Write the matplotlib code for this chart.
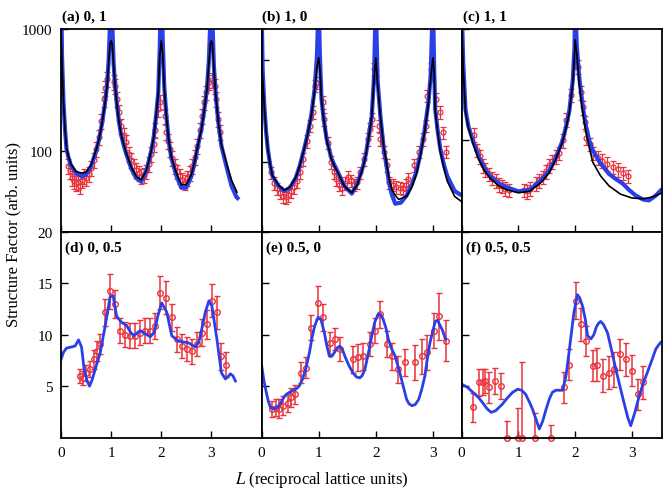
import numpy as np
import matplotlib
matplotlib.use("Agg")
import matplotlib.pyplot as plt
from matplotlib.ticker import NullLocator

plt.rcParams['font.family'] = ['Liberation Serif', 'DejaVu Serif']
plt.rcParams['mathtext.fontset'] = 'stix'

# ---- panel (a) 0, 1  (log scale)
L_blue_a = [0.0, 0.02, 0.05, 0.08, 0.11, 0.15, 0.2, 0.3, 0.41, 0.5, 0.6, 0.7, 0.76, 0.82, 0.88, 0.92,
            0.95, 0.98, 1.0, 1.02, 1.05, 1.08, 1.12, 1.16, 1.2, 1.25, 1.3, 1.4, 1.5, 1.6, 1.7,
            1.76, 1.8, 1.85, 1.9, 1.94, 1.97, 2.0, 2.03, 2.06, 2.1, 2.15, 2.2, 2.3, 2.4, 2.5,
            2.6, 2.66, 2.72, 2.8, 2.86, 2.91, 2.95, 2.98, 3.0, 3.02, 3.05, 3.09, 3.14, 3.2,
            3.3, 3.4, 3.5, 3.55]
S_blue_a = [3000, 600, 250, 150, 104, 88, 76, 66, 62, 64, 75, 100, 125, 170, 250, 350,
            550, 1200, 3000, 1200, 520, 340, 230, 170, 135, 112, 95, 72, 60, 56, 68,
            85, 100, 130, 200, 300, 700, 3000, 800, 340, 200, 120, 88, 63, 50, 50,
            62, 78, 105, 150, 220, 320, 550, 1200, 3000, 1200, 500, 280, 170, 110,
            75, 52, 42, 40]
L_black_a = [0.0, 0.02, 0.05, 0.08, 0.11, 0.15, 0.2, 0.3, 0.41, 0.5, 0.6, 0.7, 0.76, 0.82, 0.88, 0.92,
             0.95, 0.98, 1.0, 1.02, 1.05, 1.08, 1.12, 1.16, 1.2, 1.25, 1.3, 1.4, 1.5, 1.6, 1.7,
             1.76, 1.8, 1.85, 1.9, 1.94, 1.97, 2.0, 2.03, 2.06, 2.1, 2.15, 2.2, 2.3, 2.4, 2.5,
             2.6, 2.66, 2.72, 2.8, 2.86, 2.91, 2.95, 2.98, 3.0, 3.02, 3.05, 3.09, 3.14, 3.2,
             3.3, 3.4, 3.51]
S_black_a = [1000, 550, 250, 150, 106, 90, 78, 68, 66, 67, 77, 102, 126, 170, 248, 345,
             520, 760, 800, 760, 500, 335, 228, 170, 136, 114, 97, 74, 62, 58, 69,
             86, 101, 130, 198, 295, 600, 800, 620, 330, 198, 122, 90, 66, 53, 53,
             64, 80, 106, 150, 218, 315, 520, 760, 800, 760, 480, 275, 170, 113,
             80, 58, 46]
L_data_a = [0.14, 0.18, 0.22, 0.26, 0.3, 0.34, 0.38, 0.42, 0.46, 0.5, 0.55, 0.6, 0.65, 0.7, 0.75,
            0.8, 0.85, 0.88, 0.91, 1.05, 1.08, 1.12, 1.16, 1.2, 1.25, 1.3, 1.35, 1.4, 1.45, 1.5,
            1.55, 1.6, 1.65, 1.7, 1.75, 1.8, 1.85, 1.88, 1.93, 1.97, 2.07, 2.1, 2.14, 2.17, 2.22,
            2.27, 2.32, 2.37, 2.42, 2.47, 2.52, 2.57, 2.62, 2.67, 2.72, 2.77, 2.82, 2.86, 2.9,
            2.95, 3.02, 3.07, 3.1, 3.13, 3.17]
S_data_a = [75, 68, 60, 57, 55, 56, 52, 58, 62, 60, 65, 72, 85, 104, 130,
            175, 268, 330, 390, 370, 343, 268, 210, 161, 135, 118, 95, 85, 75, 70,
            66, 62, 64, 68, 78, 95, 115, 150, 221, 252, 195, 143, 120, 104, 88,
            75, 68, 62, 58, 56, 60, 66, 76, 90, 110, 150, 195, 250, 302,
            366, 380, 343, 268, 183, 143]

# ---- panel (b) 1, 0
L_blue_b = [0.0, 0.02, 0.05, 0.08, 0.11, 0.15, 0.19, 0.3, 0.4, 0.5, 0.6, 0.67, 0.74, 0.8, 0.87, 0.93,
            0.97, 1.0, 1.02, 1.05, 1.09, 1.14, 1.22, 1.28, 1.34, 1.45, 1.58, 1.68, 1.78, 1.83,
            1.87, 1.93, 1.97, 2.0, 2.03, 2.08, 2.14, 2.19, 2.23, 2.28, 2.34, 2.44, 2.54, 2.63,
            2.71, 2.78, 2.85, 2.92, 2.96, 3.0, 3.02, 3.04, 3.08, 3.13, 3.19, 3.25, 3.38, 3.5]
S_blue_b = [4000, 800, 350, 200, 134, 95, 73, 58, 52, 56, 70, 92, 130, 180, 285, 520,
            1100, 4000, 1200, 413, 260, 168, 110, 92, 79, 58, 49, 62, 92, 122,
            170, 285, 700, 4000, 650, 285, 134, 90, 63, 48, 39, 40, 47, 60,
            80, 120, 197, 380, 700, 4000, 900, 330, 210, 134, 95, 73, 52, 47]
L_black_b = [0.0, 0.02, 0.05, 0.08, 0.11, 0.15, 0.19, 0.3, 0.4, 0.5, 0.6, 0.67, 0.74, 0.8, 0.87, 0.93,
             0.97, 1.0, 1.02, 1.05, 1.09, 1.14, 1.22, 1.28, 1.34, 1.45, 1.58, 1.68, 1.78, 1.83,
             1.87, 1.93, 1.97, 2.0, 2.03, 2.08, 2.14, 2.19, 2.23, 2.28, 2.34, 2.4, 2.54, 2.63,
             2.71, 2.78, 2.85, 2.92, 2.96, 3.0, 3.02, 3.04, 3.08, 3.13, 3.19, 3.25, 3.38, 3.5]
S_black_b = [1050, 700, 340, 200, 134, 96, 74, 59, 53, 57, 71, 92, 130, 178, 280, 500,
             850, 1050, 850, 400, 255, 165, 108, 90, 78, 58, 50, 60, 90, 120,
             165, 280, 650, 1050, 600, 280, 140, 96, 70, 54, 47, 43, 46, 57,
             76, 115, 190, 370, 650, 1050, 800, 320, 200, 125, 88, 65, 46, 41]
L_data_b = [0.17, 0.22, 0.27, 0.32, 0.37, 0.42, 0.47, 0.52, 0.57, 0.62, 0.67, 0.73, 0.79, 0.84,
            0.9, 0.93, 0.95, 1.07, 1.1, 1.16, 1.22, 1.27, 1.31, 1.36, 1.41, 1.46, 1.52, 1.57,
            1.62, 1.67, 1.72, 1.8, 1.87, 1.9, 1.93, 1.97, 2.0, 2.05, 2.08, 2.14, 2.2, 2.23,
            2.3, 2.36, 2.42, 2.48, 2.52, 2.57, 2.66, 2.75, 2.82, 2.88, 2.9, 2.97, 3.05, 3.12,
            3.17, 3.23]
S_data_b = [79, 62, 55, 50, 46, 45, 47, 52, 57, 65, 79, 107, 160, 227,
            309, 560, 600, 386, 263, 155, 100, 80, 68, 60, 55, 62, 72, 66,
            60, 63, 79, 107, 168, 210, 263, 815, 700, 227, 168, 126, 93, 63,
            60, 57, 56, 55, 60, 68, 93, 126, 168, 227, 447, 815, 414, 309,
            195, 126]

# ---- panel (c) 1, 1
L_blue_c = [0.0, 0.03, 0.07, 0.12, 0.2, 0.3, 0.4, 0.5, 0.66, 0.8, 1.0, 1.2, 1.4, 1.54, 1.65,
            1.78, 1.85, 1.9, 1.96, 1.99, 2.0, 2.03, 2.07, 2.11, 2.15, 2.19, 2.25, 2.31, 2.45,
            2.6, 2.72, 2.84, 2.95, 3.07, 3.2, 3.3, 3.42, 3.54]
S_blue_c = [2000, 500, 190, 135, 100, 72, 57, 48, 41, 38, 35, 36, 44, 53, 68,
            100, 140, 187, 350, 700, 2000, 700, 380, 256, 180, 136, 100, 82, 62,
            50, 45, 41, 36, 32, 29.5, 29, 32, 37]
L_black_c = [0.0, 0.03, 0.07, 0.12, 0.2, 0.3, 0.4, 0.5, 0.66, 0.8, 1.0, 1.2, 1.4, 1.54, 1.65,
             1.78, 1.85, 1.9, 1.96, 1.99, 2.0, 2.03, 2.07, 2.11, 2.15, 2.19, 2.25, 2.31, 2.45,
             2.6, 2.8, 3.0, 3.2, 3.35, 3.54]
S_black_c = [1500, 450, 180, 130, 95, 68, 54, 46, 39, 36, 34, 35, 42, 51, 66,
             98, 135, 180, 330, 600, 800, 600, 330, 220, 160, 120, 86, 64, 48,
             39, 33, 30.5, 30, 31, 34]
L_data_c = [0.22, 0.28, 0.33, 0.37, 0.42, 0.48, 0.54, 0.6, 0.66, 0.71, 0.77, 0.83, 1.1, 1.15,
            1.2, 1.31, 1.37, 1.43, 1.49, 1.54, 1.6, 1.66, 1.72, 1.78, 1.84, 1.93, 1.99, 2.05,
            2.11, 2.14, 2.17, 2.2, 2.26, 2.31, 2.4, 2.48, 2.57, 2.66, 2.75, 2.84, 2.93]
S_data_c = [113, 82, 72, 60, 55, 50, 46, 44, 40, 39, 37, 36, 36, 35,
            37, 41, 44, 47, 53, 60, 65, 72, 77, 100, 154, 256, 510, 460,
            270, 198, 146, 106, 93, 77, 70, 66, 62, 58, 55, 51, 48]

# ---- panel (d) 0, 0.5  (linear)
L_blue_d = [0, 0.05, 0.11, 0.2, 0.28, 0.35, 0.41, 0.46, 0.52, 0.57, 0.62, 0.68, 0.78, 0.88, 0.98,
            1.04, 1.11, 1.21, 1.31, 1.38, 1.45, 1.58, 1.68, 1.78, 1.86, 1.93, 2.01, 2.11, 2.21,
            2.34, 2.45, 2.55, 2.68, 2.75, 2.81, 2.88, 2.95, 3.01, 3.11, 3.2, 3.28, 3.33, 3.38,
            3.43, 3.48]
S_blue_d = [7.6, 8.3, 8.7, 8.8, 8.9, 9.5, 8.8, 6.7, 5.5, 5.0, 5.6, 6.6, 8.2, 10.8, 13.7,
            13.8, 11.8, 11.2, 10.9, 10.3, 9.9, 10.4, 10.1, 9.8, 10.2, 11.8, 13.1, 12.2, 9.9,
            9.4, 9.3, 9.2, 8.8, 9.3, 10.6, 12.2, 13.3, 12.8, 9.6, 6.3, 5.7, 5.9, 6.2,
            6.0, 5.5]
L_data_d = [0.37, 0.43, 0.5, 0.58, 0.65, 0.71, 0.78, 0.88, 0.98, 1.08, 1.18, 1.28, 1.38, 1.48,
            1.58, 1.68, 1.78, 1.88, 1.98, 2.09, 2.21, 2.31, 2.41, 2.51, 2.61, 2.71, 2.81, 2.91,
            3.01, 3.11, 3.2, 3.3]
S_data_d = [6.0, 5.8, 6.3, 6.65, 7.6, 8.4, 9.1, 12.2, 14.25, 13.0, 10.4, 10.0, 9.9, 9.9,
            10.2, 10.4, 10.4, 10.85, 14.1, 13.6, 11.7, 9.56, 8.9, 8.6, 8.4, 9.1, 10.2, 11.0,
            13.3, 12.2, 7.9, 7.1]
E_data_d = [0.7, 0.7, 0.8, 0.8, 0.9, 1.0, 1.0, 1.3, 1.7, 1.4, 1.2, 1.2, 1.2, 1.2,
            1.2, 1.2, 1.2, 1.3, 1.6, 1.6, 1.3, 1.2, 1.2, 1.2, 1.2, 1.2, 1.3, 1.4,
            1.6, 1.6, 1.3, 1.2]

# ---- panel (e) 0.5, 0
L_blue_e = [0, 0.04, 0.08, 0.12, 0.16, 0.22, 0.28, 0.34, 0.4, 0.46, 0.52, 0.6, 0.66, 0.72, 0.78,
            0.84, 0.88, 0.93, 0.99, 1.04, 1.1, 1.14, 1.19, 1.23, 1.28, 1.32, 1.37, 1.42, 1.46,
            1.53, 1.6, 1.66, 1.72, 1.76, 1.81, 1.87, 1.93, 1.98, 2.04, 2.08, 2.13, 2.18, 2.22,
            2.28, 2.34, 2.38, 2.42, 2.48, 2.54, 2.58, 2.63, 2.69, 2.75, 2.8, 2.86, 2.9, 2.95,
            3.0, 3.04, 3.08, 3.13, 3.17, 3.22]
S_blue_e = [7.1, 5.6, 4.5, 3.5, 2.9, 2.8, 2.9, 3.4, 4.0, 4.3, 4.5, 4.7, 5.0, 5.7, 6.8,
            8.3, 9.6, 10.85, 11.7, 11.5, 10.2, 9.0, 7.9, 7.9, 8.3, 8.7, 8.9, 8.5, 7.9,
            7.0, 6.3, 5.9, 5.8, 6.0, 6.65, 8.2, 9.9, 11.2, 12.0, 12.0, 11.5, 10.6, 9.56,
            8.6, 7.9, 7.1, 6.3, 5.0, 3.7, 3.3, 3.1, 3.2, 3.7, 4.6, 6.0, 7.6, 9.27,
            10.4, 11.3, 11.4, 10.85, 10.4, 9.56]
L_data_e = [0.18, 0.25, 0.31, 0.37, 0.46, 0.52, 0.58, 0.69, 0.78, 0.87, 0.99, 1.07, 1.19, 1.28,
            1.37, 1.6, 1.69, 1.78, 1.9, 1.98, 2.07, 2.19, 2.28, 2.39, 2.51, 2.69, 2.81, 2.89,
            3.01, 3.1, 3.22]
S_data_e = [2.8, 2.9, 2.8, 3.1, 3.4, 3.9, 4.2, 6.3, 6.8, 10.7, 13.1, 11.7, 9.2, 9.6,
            8.6, 7.6, 7.8, 7.9, 9.1, 10.4, 12.0, 9.1, 7.9, 6.65, 7.3, 7.3, 7.9, 8.3,
            10.4, 11.8, 9.4]
E_data_e = [0.8, 0.8, 0.9, 0.9, 0.9, 0.9, 0.9, 1.0, 1.0, 1.2, 1.6, 1.3, 1.1, 1.1,
            1.2, 1.3, 1.3, 1.3, 1.2, 1.2, 1.3, 1.3, 1.3, 1.3, 1.3, 1.7, 1.7, 1.7,
            1.7, 2.3, 2.0]

# ---- panel (f) 0.5, 0.5
L_blue_f = [0.0, 0.1, 0.2, 0.3, 0.37, 0.45, 0.52, 0.6, 0.72, 0.8, 0.9, 0.99, 1.06, 1.13, 1.2,
            1.25, 1.31, 1.37, 1.43, 1.49, 1.55, 1.6, 1.66, 1.72, 1.78, 1.84, 1.9, 1.98, 2.04,
            2.08, 2.13, 2.18, 2.22, 2.28, 2.33, 2.37, 2.41, 2.45, 2.5, 2.57, 2.63, 2.69, 2.78,
            2.86, 2.93, 2.98, 3.05, 3.13, 3.2, 3.27, 3.35, 3.42, 3.47, 3.51]
S_blue_f = [5.2, 4.9, 4.4, 3.9, 3.4, 2.8, 2.45, 2.6, 3.25, 3.8, 4.4, 4.7, 4.6, 4.2, 3.4,
            2.77, 1.8, 0.83, 1.6, 2.77, 3.8, 4.4, 4.6, 4.6, 4.6, 6.0, 8.6, 12.2, 13.9,
            13.6, 12.8, 11.5, 9.9, 9.6, 10.0, 10.7, 11.1, 11.3, 11.0, 10.2, 8.8, 7.3, 5.2,
            3.4, 1.9, 1.15, 2.4, 4.06, 5.3, 6.3, 7.5, 8.6, 9.0, 9.26]
L_data_f = [0.2, 0.3, 0.37, 0.42, 0.49, 0.59, 0.69, 0.8, 1.0, 1.07, 1.3, 1.57, 1.8, 1.9,
            2.01, 2.1, 2.19, 2.31, 2.39, 2.5, 2.6, 2.69, 2.79, 2.89, 3.01, 3.1, 3.19]
S_data_f = [2.93, 5.36, 5.4, 5.5, 4.9, 5.5, 5.0, 0.0, 0.0, 0.0, 0.0, 0.0, 4.9, 7.1,
            13.3, 11.0, 9.4, 7.0, 7.1, 6.0, 6.3, 6.65, 8.1, 7.6, 6.5, 4.2, 5.36]
E_data_f = [1.4, 1.3, 1.3, 1.2, 1.5, 1.3, 1.3, 1.6, 2.9, 7.3, 2.4, 1.2, 1.5, 1.5,
            1.8, 1.6, 1.5, 1.5, 1.6, 1.6, 1.6, 1.7, 1.5, 1.6, 1.5, 1.5, 1.6]

titles = ["(a) 0, 1", "(b) 1, 0", "(c) 1, 1", "(d) 0, 0.5", "(e) 0.5, 0", "(f) 0.5, 0.5"]

blue = "#2a3fe8"
red = "#e8323c"

fig = plt.figure(figsize=(6.64, 4.89), dpi=100)
W, H = 664.0, 489.0
cols = [(61, 261.5), (261.5, 461.5), (461.5, 662)]
rows = [(30, 233), (233, 438.5)]
axes = []
for r in range(2):
    for c in range(3):
        x0, x1 = cols[c]
        y0, y1 = rows[r]
        ax = fig.add_axes([x0 / W, 1 - y1 / H, (x1 - x0) / W, (y1 - y0) / H])
        axes.append(ax)

top = [(L_blue_a, S_blue_a, L_black_a, S_black_a, L_data_a, S_data_a),
       (L_blue_b, S_blue_b, L_black_b, S_black_b, L_data_b, S_data_b),
       (L_blue_c, S_blue_c, L_black_c, S_black_c, L_data_c, S_data_c)]
ylims_top = [(21.7, 1000), (20.6, 2013), (15.1, 698)]
for i, (lb, sb, lk, sk, ld, sd) in enumerate(top):
    ax = axes[i]
    ax.set_yscale('log')
    sd = np.array(sd, dtype=float)
    ax.errorbar(ld, sd, yerr=0.14 * sd, fmt='o', ms=3.5, mfc='none', mec=red, mew=0.9,
                ecolor=red, elinewidth=0.9, capsize=2, capthick=0.9, zorder=2)
    ax.plot(lb, sb, color=blue, lw=3, zorder=3, solid_capstyle='butt')
    ax.plot(lk, sk, color='black', lw=1.2, zorder=4)
    ax.set_ylim(*ylims_top[i])
    ax.set_yticks([100, 1000])
    ax.yaxis.set_minor_locator(NullLocator())
    if i == 0:
        ax.set_yticklabels(["100", "1000"])
    else:
        ax.set_yticklabels([])
    ax.set_xticklabels([])
    ax.text(0.005, 1.03, titles[i], transform=ax.transAxes, fontsize=11,
            fontweight='bold', ha='left', va='bottom')

bottom = [(L_blue_d, S_blue_d, L_data_d, S_data_d, E_data_d),
          (L_blue_e, S_blue_e, L_data_e, S_data_e, E_data_e),
          (L_blue_f, S_blue_f, L_data_f, S_data_f, E_data_f)]
for i, (lb, sb, ld, sd, ed) in enumerate(bottom):
    ax = axes[3 + i]
    sd = np.array(sd, dtype=float)
    ed = np.array(ed, dtype=float)
    err = [np.minimum(ed, sd), ed]
    ax.errorbar(ld, sd, yerr=err, fmt='o', ms=4, mfc='none', mec=red, mew=1.0,
                ecolor=red, elinewidth=1.1, capsize=2.5, capthick=1.1, zorder=2,
                clip_on=False)
    ax.plot(lb, sb, color=blue, lw=2, zorder=3)
    ax.set_ylim(0, 20)
    ax.set_yticks([5, 10, 15, 20])
    if i == 0:
        ax.set_yticklabels(["5", "10", "15", "20"])
    else:
        ax.set_yticklabels([])
    ax.text(0.02, 0.96, titles[3 + i], transform=ax.transAxes, fontsize=11,
            fontweight='bold', ha='left', va='top')

for i, ax in enumerate(axes):
    ax.set_xlim(0, 4.0 if i % 3 == 0 else (3.5 if i % 3 == 1 else 3.53))
    ax.set_xticks([0, 1, 2, 3])
    if i < 3:
        ax.set_xticklabels([])
    ax.xaxis.set_minor_locator(NullLocator())
    ax.tick_params(direction='in', length=5, width=1, labelsize=11, pad=6,
                   top=False, right=False)
    for s in ax.spines.values():
        s.set_linewidth(1.3)
        s.set_zorder(5)

fig.text(13 / W, 1 - 235 / H, "Structure Factor (arb. units)", rotation=90,
         ha='center', va='center', fontsize=12)
fig.text(322 / W, 1 - 480 / H, r"$L$ (reciprocal lattice units)",
         ha='center', va='center', fontsize=12)

fig.savefig("out.png", dpi=100)
